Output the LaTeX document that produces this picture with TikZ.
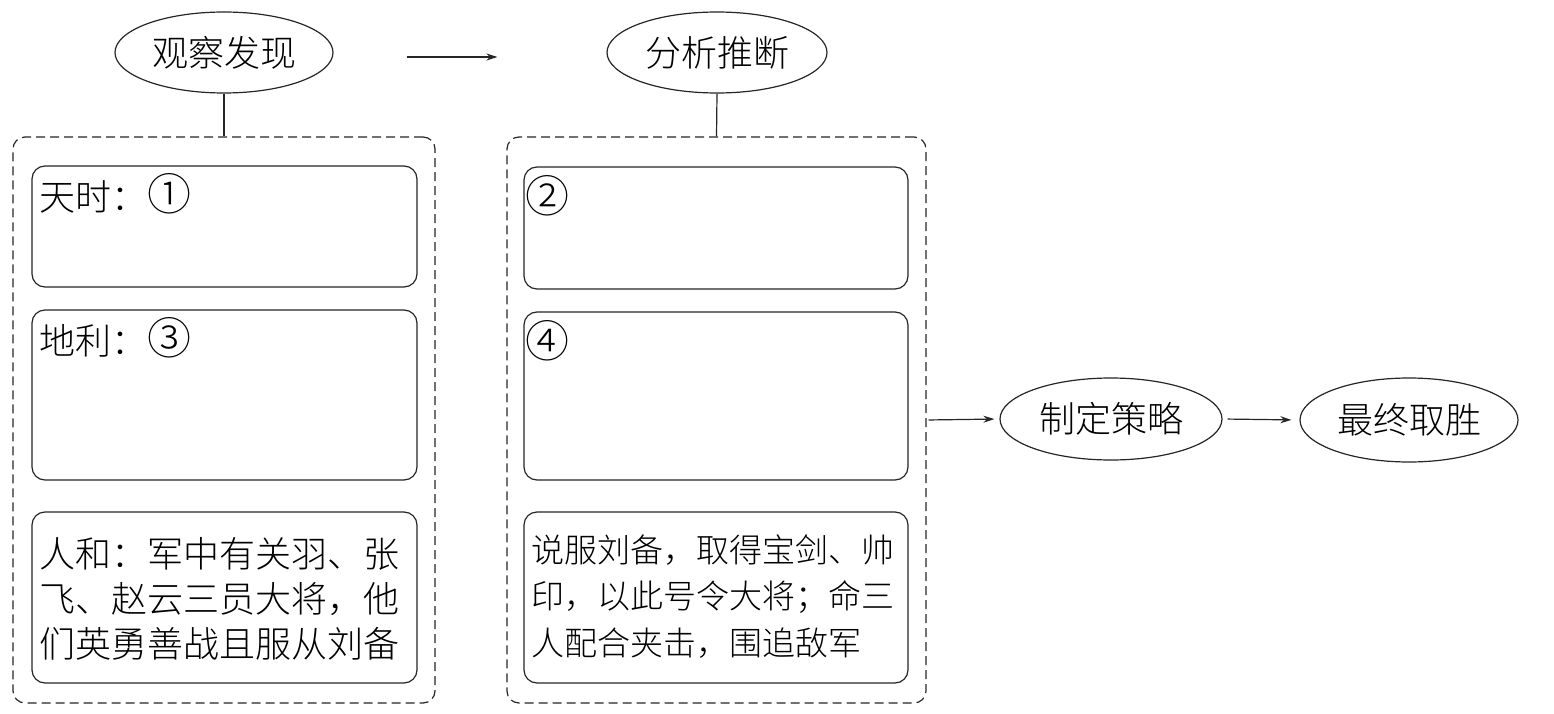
\documentclass[tikz,border=0pt]{standalone}
\usepackage{fontspec}
\setmainfont{Noto Sans CJK SC Light}
\usetikzlibrary{shapes.geometric,arrows.meta}
\newcommand{\circnum}[1]{{\fontsize{44}{45}\selectfont #1}}
\tikzset{
  line/.style={line width=1.2pt, draw=black!85},
  oval/.style={line, ellipse, inner sep=0pt, font=\fontsize{36}{40}\selectfont},
  outerbox/.style={line, dash pattern=on 9pt off 5pt, rounded corners=12pt, rectangle, inner sep=0pt},
  innerbox/.style={line, rounded corners=13pt, rectangle, inner sep=0pt},
  lbl/.style={anchor=north west, inner sep=0pt, align=left},
  arr/.style={line, -{Stealth[length=11pt,width=7pt]}}
}
\begin{document}
\begin{tikzpicture}[x=1pt,y=-1pt]
\useasboundingbox[fill=white] (0,0) rectangle (1554,714);
% ellipses
\node[oval, minimum width=218pt, minimum height=81pt] (obs) at (224,52.5) {观察发现};
\node[oval, minimum width=220pt, minimum height=81pt] (ana) at (717,52.5) {分析推断};
\node[oval, minimum width=222pt, minimum height=82pt] (strat) at (1111,419) {制定策略};
\node[oval, minimum width=218pt, minimum height=84pt] (win) at (1409,420) {最终取胜};
% dashed containers
\node[outerbox, minimum width=422pt, minimum height=566pt] (out1) at (224,420) {};
\node[outerbox, minimum width=419pt, minimum height=566pt] (out2) at (716.5,420) {};
% inner boxes left
\node[innerbox, minimum width=385pt, minimum height=121pt] (l1) at (224.5,226.5) {};
\node[innerbox, minimum width=385pt, minimum height=170pt] (l2) at (224.5,395) {};
\node[innerbox, minimum width=385pt, minimum height=171pt] (l3) at (224.5,597.5) {};
% inner boxes right
\node[innerbox, minimum width=384pt, minimum height=122pt] (r1) at (716,228) {};
\node[innerbox, minimum width=384pt, minimum height=168pt] (r2) at (716,396) {};
\node[innerbox, minimum width=384pt, minimum height=171pt] (r3) at (716,597.5) {};
% texts
\node[lbl, font=\fontsize{36}{45}\selectfont, anchor=base west] (t1) at ([xshift=8pt,yshift=-45pt]l1.north west) {天时：\circnum{①}};
\node[lbl, font=\fontsize{36}{45}\selectfont, anchor=base west] (t3) at ([xshift=8pt,yshift=-45pt]l2.north west) {地利：\circnum{③}};
\node[lbl, font=\fontsize{36}{45}\selectfont] (t5) at ([xshift=8pt,yshift=-26pt]l3.north west) {人和：军中有关羽、张\\飞、赵云三员大将，他\\们英勇善战且服从刘备};
\node[lbl, font=\fontsize{36}{45}\selectfont, anchor=base west] (t2) at ([xshift=2pt,yshift=-46pt]r1.north west) {\circnum{②}};
\node[lbl, font=\fontsize{36}{45}\selectfont, anchor=base west] (t4) at ([xshift=2pt,yshift=-46pt]r2.north west) {\circnum{④}};
\node[lbl, font=\fontsize{33}{46.5}\selectfont] (t6) at ([xshift=8pt,yshift=-23pt]r3.north west) {说服刘备，取得宝剑、帅\\印，以此号令大将；命三\\人配合夹击，围追敌军};
% connectors
\draw[line] (obs.south) -- (out1.north);
\draw[line] (ana.south) -- (out2.north);
\draw[arr] ([xshift=73pt,yshift=-4.5pt]obs.east) -- ([xshift=-109pt,yshift=-4.5pt]ana.west);
\draw[arr, shorten <=2pt, shorten >=5pt] (out2.east) -- (strat.west);
\draw[arr, shorten <=5pt, shorten >=8pt] (strat.east) -- (win.west);
\end{tikzpicture}
\end{document}
